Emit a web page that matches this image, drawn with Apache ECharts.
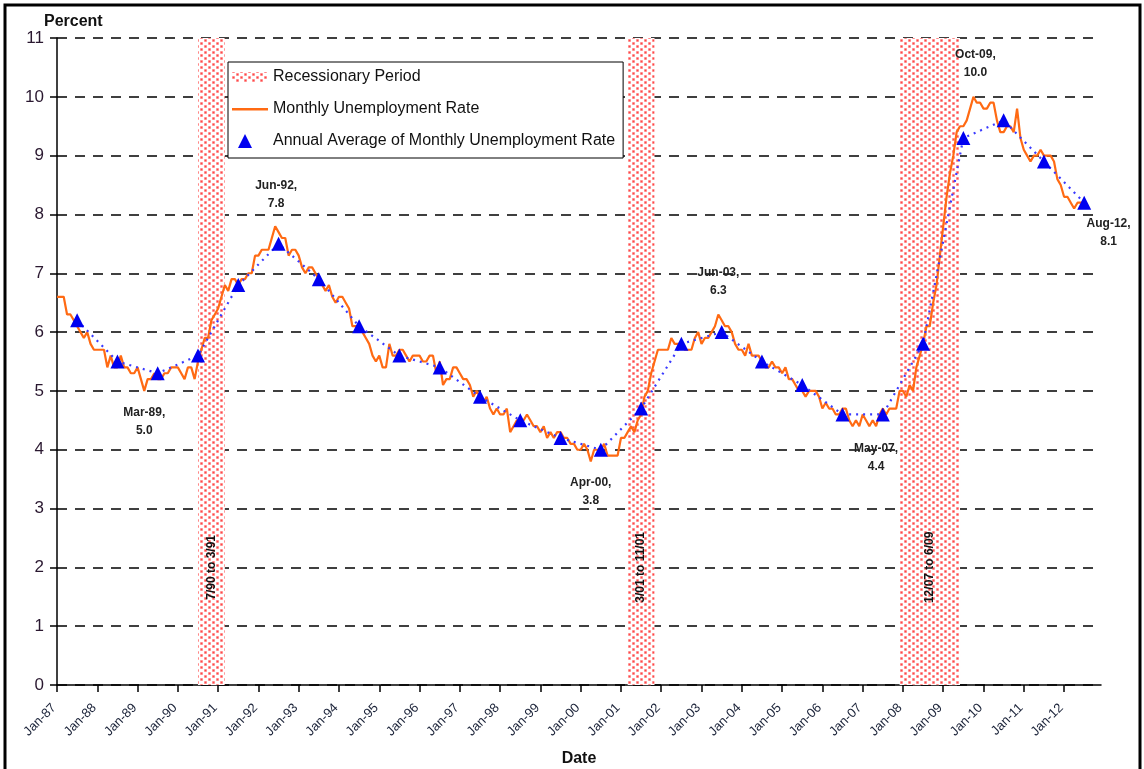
<!DOCTYPE html>
<html lang="en">
<head>
    <meta charset="UTF-8">
    <script src="https://cdn.jsdelivr.net/npm/echarts@6/dist/echarts.min.js"></script>
    <style>
        html, body { margin: 0; padding: 0; background: #fff; }
        #chart { width: 1144px; height: 769px; }
    </style>
</head>
<body>
<div id="chart"></div>
<script>
    // axis labels
    var monthNames = ['Jan','Feb','Mar','Apr','May','Jun','Jul','Aug','Sep','Oct','Nov','Dec'];
    var years = ['87','88','89','90','91','92','93','94','95','96','97','98','99',
                 '00','01','02','03','04','05','06','07','08','09','10','11','12'];

    // monthly unemployment rate, Jan-87 .. Aug-12
    var monthly = [
        6.6,6.6,6.6,6.3,6.3,6.2,6.1,6.0,5.9,6.0,5.8,5.7,
        5.7,5.7,5.7,5.4,5.6,5.4,5.4,5.6,5.4,5.4,5.3,5.3,
        5.4,5.2,5.0,5.2,5.2,5.3,5.2,5.2,5.3,5.3,5.4,5.4,
        5.4,5.3,5.2,5.4,5.4,5.2,5.5,5.7,5.9,5.9,6.2,6.3,
        6.4,6.6,6.8,6.7,6.9,6.9,6.8,6.9,6.9,7.0,7.0,7.3,
        7.3,7.4,7.4,7.4,7.6,7.8,7.7,7.6,7.6,7.3,7.4,7.4,
        7.3,7.1,7.0,7.1,7.1,7.0,6.9,6.8,6.7,6.8,6.6,6.5,
        6.6,6.6,6.5,6.4,6.1,6.1,6.1,6.0,5.9,5.8,5.6,5.5,
        5.6,5.4,5.4,5.8,5.6,5.6,5.7,5.7,5.6,5.5,5.6,5.6,
        5.6,5.5,5.5,5.6,5.6,5.3,5.5,5.1,5.2,5.2,5.4,5.4,
        5.3,5.2,5.2,5.1,4.9,5.0,4.9,4.8,4.9,4.7,4.6,4.7,
        4.6,4.6,4.7,4.3,4.4,4.5,4.5,4.5,4.6,4.5,4.4,4.4,
        4.3,4.4,4.2,4.3,4.2,4.3,4.3,4.2,4.2,4.1,4.1,4.0,
        4.0,4.1,4.0,3.8,4.0,4.0,4.0,4.1,3.9,3.9,3.9,3.9,
        4.2,4.2,4.3,4.4,4.3,4.5,4.6,4.9,5.0,5.3,5.5,5.7,
        5.7,5.7,5.7,5.9,5.8,5.8,5.8,5.7,5.7,5.7,5.9,6.0,
        5.8,5.9,5.9,6.0,6.1,6.3,6.2,6.1,6.1,6.0,5.8,5.7,
        5.7,5.6,5.8,5.6,5.6,5.6,5.5,5.4,5.4,5.5,5.4,5.4,
        5.3,5.4,5.2,5.2,5.1,5.0,5.0,4.9,5.0,5.0,5.0,4.9,
        4.7,4.8,4.7,4.7,4.6,4.6,4.7,4.7,4.5,4.4,4.5,4.4,
        4.6,4.5,4.4,4.5,4.4,4.6,4.7,4.6,4.7,4.7,4.7,5.0,
        5.0,4.9,5.1,5.0,5.4,5.6,5.8,6.1,6.1,6.5,6.8,7.3,
        7.8,8.3,8.7,9.0,9.4,9.5,9.5,9.6,9.8,10.0,9.9,9.9,
        9.8,9.8,9.9,9.9,9.6,9.4,9.4,9.5,9.5,9.4,9.8,9.3,
        9.1,9.0,8.9,9.0,9.0,9.1,9.0,9.0,9.0,8.9,8.6,8.5,
        8.3,8.3,8.2,8.1,8.2,8.2,8.2,8.1
    ];

    // annual averages, plotted at July of each year
    var annual = [6.2,5.5,5.3,5.6,6.8,7.5,6.9,6.1,5.6,5.4,4.9,4.5,4.2,
                  4.0,4.7,5.8,6.0,5.5,5.1,4.6,4.6,5.8,9.3,9.6,8.9,8.2];

    // recessions: start month, end month, label, label month
    var recessions = [
        ['Jul-90', 'Mar-91', '7/90 to 3/91', 'Nov-90'],
        ['Mar-01', 'Nov-01', '3/01 to 11/01', 'Jul-01'],
        ['Dec-07', 'Jun-09', '12/07 to 6/09', 'Sep-08']
    ];

    // callouts: month, value, offset
    var callouts = [
        ['Mar-89', 5.0, [0, 31]],
        ['Jun-92', 7.8, [1, -32]],
        ['Apr-00', 3.8, [0, 30]],
        ['Jun-03', 6.3, [0, -33]],
        ['May-07', 4.4, [0, 31]],
        ['Oct-09', 10.0, [2, -33]],
        ['Aug-12', 8.1, [21, 24]]
    ];

    var months = [];
    for (var y = 0; y < years.length; y++) {
        for (var m = 0; m < 12; m++) months.push(monthNames[m] + '-' + years[y]);
    }
    var annualData = months.map(function () { return null; });
    annual.forEach(function (v, i) { annualData[i * 12 + 6] = v; });

    // dotted pattern for the recession bars
    var dots = document.createElement('canvas');
    dots.width = 8;
    dots.height = 6;
    var dc = dots.getContext('2d');
    dc.fillStyle = '#fff';
    dc.fillRect(0, 0, 8, 6);
    dc.fillStyle = '#ffc8c8';
    dc.fillRect(0, 0, 3, 3);
    dc.fillRect(4, 3, 3, 3);
    dc.fillStyle = '#ff4848';
    dc.fillRect(0.5, 0.5, 2, 2);
    dc.fillRect(4.5, 3.5, 2, 2);
    var dotFill = { image: dots, repeat: 'repeat' };

    var font = "'Liberation Sans', Arial, sans-serif";
    var isJan = function (idx) { return idx % 12 === 0; };

    var chart = echarts.init(document.getElementById('chart'));
    chart.setOption({
        animation: false,
        textStyle: { fontFamily: font },
        grid: { left: 57, right: 43, top: 38, bottom: 84, outerBoundsMode: 'none' },
        legend: {
            orient: 'vertical',
            left: 228, top: 62,
            padding: [7, 8, 9, 4],
            itemGap: 16,
            itemWidth: 36, itemHeight: 14,
            backgroundColor: '#fff',
            borderColor: '#000', borderWidth: 1,
            textStyle: { fontSize: 16, color: '#111', fontFamily: font },
            data: [
                { name: 'Recessionary Period', icon: 'path://M0,0L0,0M36,14L36,14M0,2L36,2L36,12L0,12Z' },
                { name: 'Monthly Unemployment Rate', icon: 'path://M0,0L0,0M36,14L36,14M0,6L36,6L36,8.5L0,8.5Z' },
                { name: 'Annual Average of Monthly Unemployment Rate',
                  icon: 'path://M0,0L0,0M36,14L36,14M6,14L13,0L20,14Z' }
            ]
        },
        xAxis: {
            type: 'category',
            data: months,
            boundaryGap: false,
            name: 'Date',
            nameLocation: 'middle',
            nameGap: 66,
            nameTextStyle: { fontSize: 16, fontWeight: 'bold', color: '#111' },
            axisLine: { lineStyle: { color: '#000', width: 1.5 } },
            axisTick: { interval: isJan, length: 7, lineStyle: { color: '#000', width: 1.5 } },
            axisLabel: { interval: isJan, rotate: 45, fontSize: 13, color: '#1a2238', margin: 18, padding: [0, 4, 0, 0] },
            splitLine: { show: false }
        },
        yAxis: {
            type: 'value',
            min: 0, max: 11, interval: 1,
            name: 'Percent',
            nameGap: 7,
            nameTextStyle: { fontSize: 16, fontWeight: 'bold', color: '#111', align: 'left', padding: [0, 0, 0, -13] },
            axisLine: { show: true, lineStyle: { color: '#000', width: 1.5 } },
            axisTick: { show: true, length: 7, lineStyle: { color: '#000', width: 1.5 } },
            axisLabel: { fontSize: 17, color: '#2a1830', margin: 13 },
            splitLine: { show: true, lineStyle: { color: '#000', width: 1.5, type: [10, 8] } }
        },
        series: [
            {
                name: 'Recessionary Period',
                type: 'line',
                data: [],
                symbol: 'none',
                itemStyle: { color: dotFill },
                lineStyle: { width: 0 },
                markArea: {
                    silent: true,
                    itemStyle: { color: dotFill },
                    data: recessions.map(function (r) {
                        return [{ xAxis: r[0], yAxis: 0 }, { xAxis: r[1], yAxis: 11 }];
                    })
                },
                markPoint: {
                    silent: true,
                    symbolSize: 0,
                    label: { rotate: 90, fontSize: 12, fontWeight: 'bold', color: '#111' },
                    data: recessions.map(function (r) {
                        return { coord: [r[3], 2.0], label: { formatter: r[2] } };
                    })
                }
            },
            {
                name: 'Monthly Unemployment Rate',
                type: 'line',
                data: monthly,
                symbol: 'none',
                z: 3,
                itemStyle: { color: '#ff6a13' },
                lineStyle: { color: '#ff6a13', width: 2.2 },
                markPoint: {
                    silent: true,
                    symbolSize: 0,
                    label: { fontSize: 12, fontWeight: 'bold', color: '#222', lineHeight: 18 },
                    data: callouts.map(function (c) {
                        return { coord: [c[0], c[1]], label: { formatter: c[0] + ',\n' + c[1].toFixed(1), offset: c[2] } };
                    })
                }
            },
            {
                name: 'Annual Average of Monthly Unemployment Rate',
                type: 'line',
                data: annualData,
                connectNulls: true,
                symbol: 'triangle',
                symbolSize: 14,
                showSymbol: true,
                showAllSymbol: true,
                z: 4,
                itemStyle: { color: '#0000f0' },
                lineStyle: { color: '#3a3aff', width: 2.2, type: [2, 5] }
            }
        ],
        graphic: [{
            type: 'rect',
            shape: { x: 5, y: 5, width: 1135, height: 780 },
            style: { fill: null, stroke: '#000', lineWidth: 3 },
            silent: true
        }]
    });
</script>
</body>
</html>
